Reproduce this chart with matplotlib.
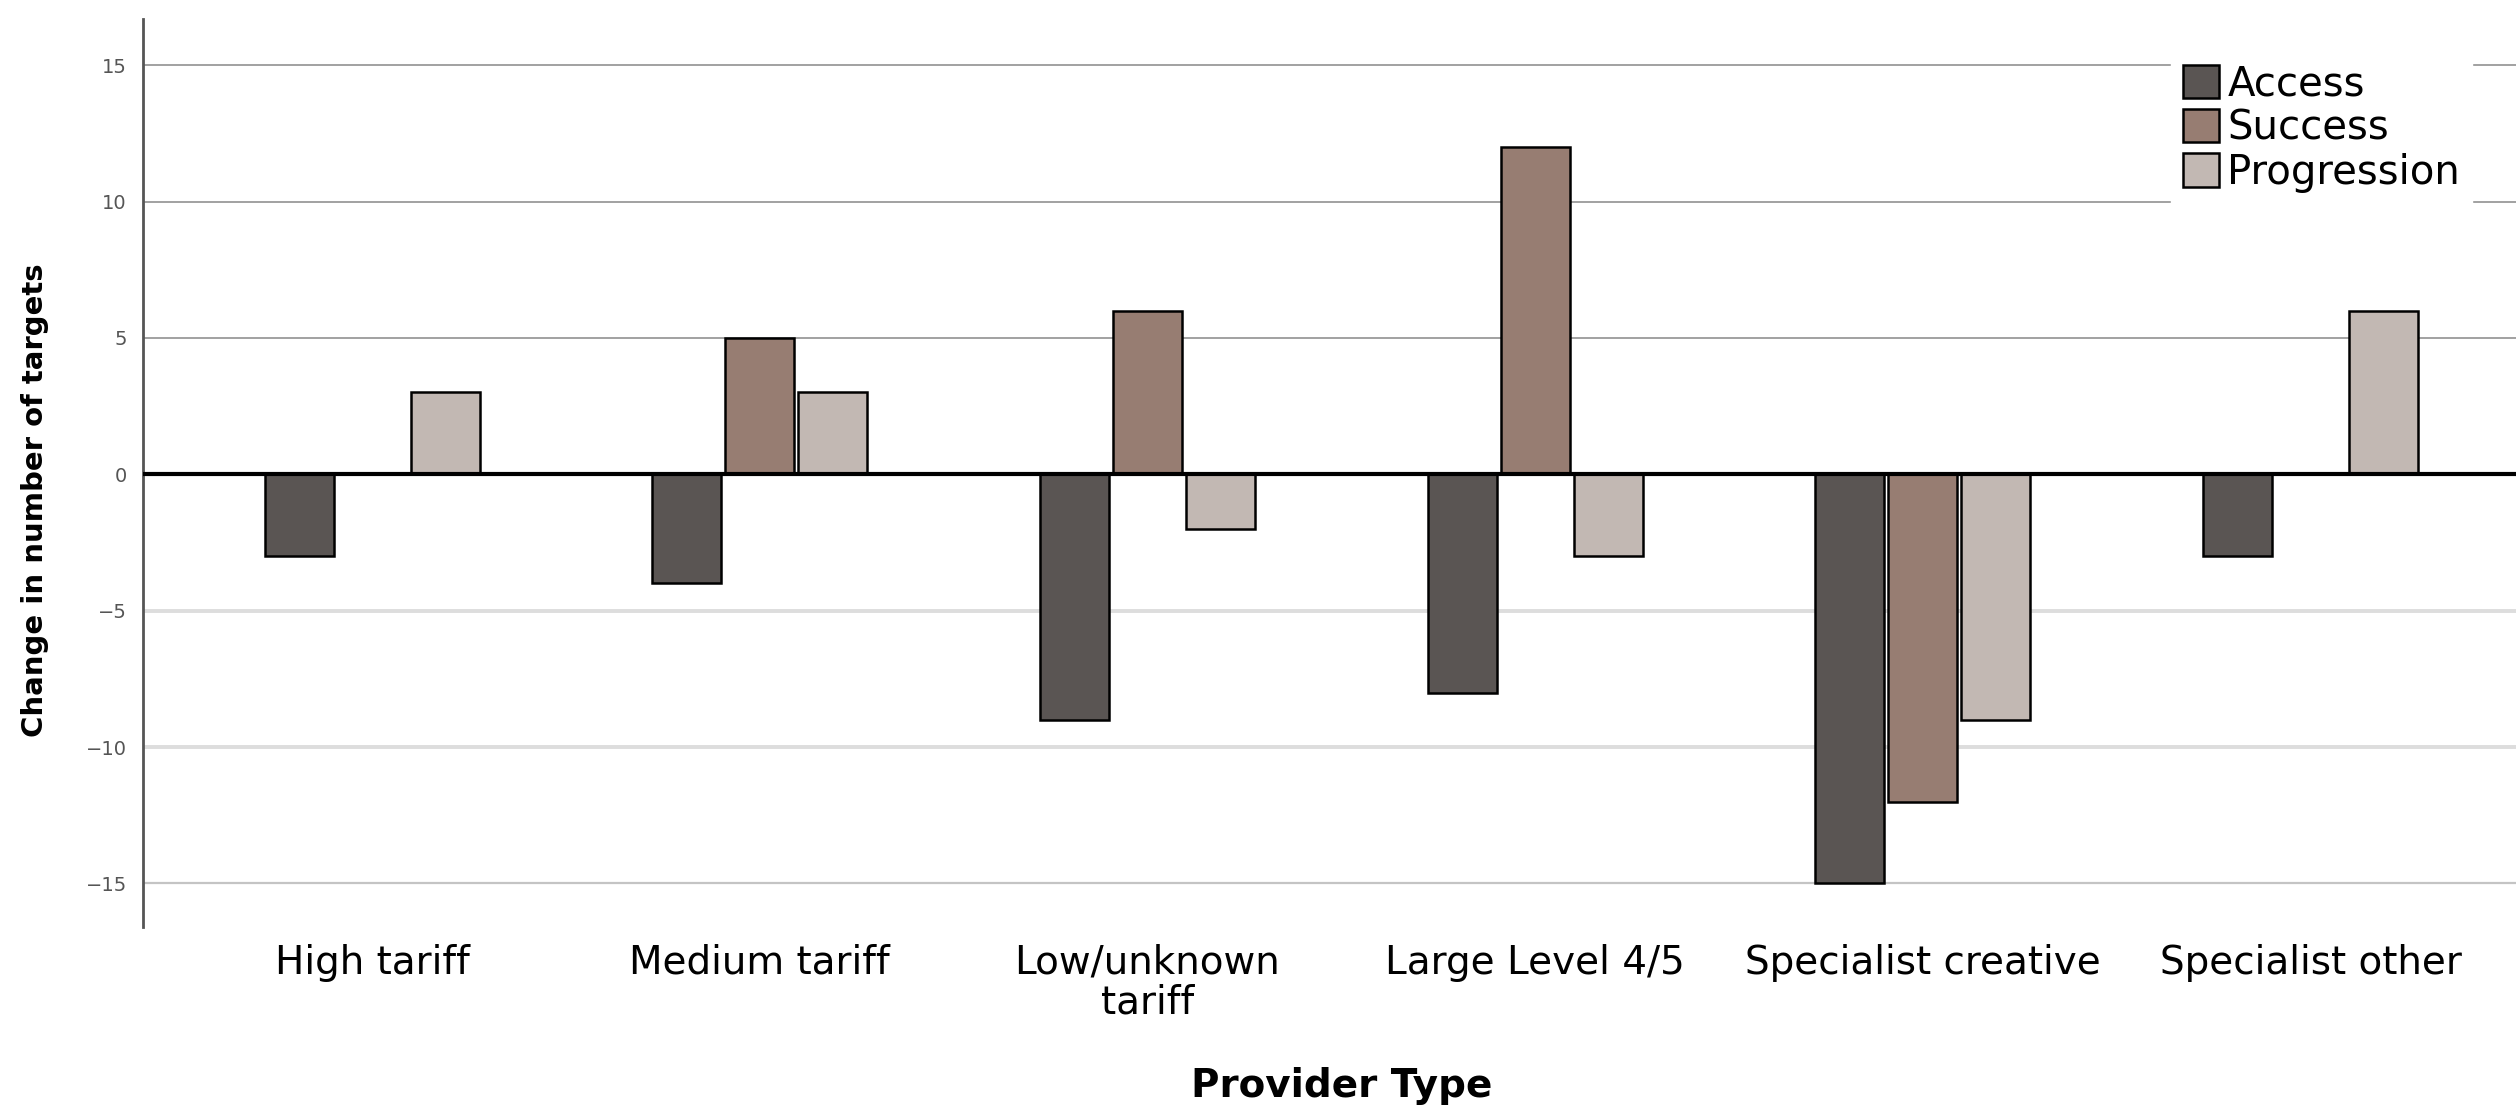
import numpy as np
import matplotlib
matplotlib.use("Agg")
import matplotlib.pyplot as plt

# -- data --
categories = ["High tariff", "Medium tariff", "Low/unknown\ntariff",
              "Large Level 4/5", "Specialist creative", "Specialist other"]
access      = [-3, -4, -9, -8, -15, -3]
success     = [0, 5, 6, 12, -12, 0]
progression = [3, 3, -2, -3, -9, 6]
series_names = ["Access", "Success", "Progression"]
colors = ["#5a5553", "#977d72", "#c2b8b3"]
yticks = [-15, -10, -5, 0, 5, 10, 15]

fig = plt.figure(figsize=(25.16, 11.05), dpi=100)
ax = fig.add_axes([0.057, 0.161, 0.943, 0.822])

x = np.arange(len(categories))
w = 0.178
step = 0.188
for i, (vals, name, c) in enumerate(zip([access, success, progression], series_names, colors)):
    vals = np.array(vals, dtype=float)
    # zero-height bars are not drawn in the reference
    mask = vals != 0
    ax.bar(x[mask] + (i - 1) * step, vals[mask], width=w, color=c,
           edgecolor="black", linewidth=1.8, label=name, zorder=3)

# gridlines (positive ones darker, negative ones lighter, like the source)
for y in yticks:
    if y == 0:
        continue
    if y > 0:
        ax.axhline(y, color="#9a9a9a", lw=1.3, zorder=1)
    elif y == -15:
        ax.axhline(y, color="#c4c4c4", lw=1.6, zorder=1)
    else:
        ax.axhline(y, color="#dddddd", lw=2.8, zorder=1)
ax.axhline(0, color="black", lw=3, zorder=4)

ax.set_xlim(-0.59, 5.53)
ax.set_ylim(-16.6, 16.7)
ax.set_yticks(yticks)
ax.set_yticklabels([str(t).replace("-", "\u2212") for t in yticks])
ax.set_xticks(x)
ax.set_xticklabels(categories, fontsize=28, linespacing=1.05)
ax.tick_params(axis="y", length=0, labelsize=14, labelcolor="#555555", pad=12)
ax.tick_params(axis="x", length=0, pad=12)

for s in ["top", "right", "bottom"]:
    ax.spines[s].set_visible(False)
ax.spines["left"].set_color("#555555")
ax.spines["left"].set_linewidth(2)

ax.set_ylabel("Change in number of targets", fontsize=21, fontweight="bold")
ax.yaxis.set_label_coords(-0.040, 0.47)
ax.set_xlabel("Provider Type", fontsize=28, fontweight="bold")
ax.xaxis.set_label_coords(0.505, -0.154)

leg = ax.legend(loc="upper right", bbox_to_anchor=(0.99, 0.985), fontsize=29,
                frameon=True, framealpha=1, edgecolor="white", fancybox=False,
                handlelength=0.9, handleheight=0.9, handletextpad=0.2,
                labelspacing=0.1, borderpad=0.3)
leg.set_zorder(5)

fig.savefig("out.png", dpi=100)
